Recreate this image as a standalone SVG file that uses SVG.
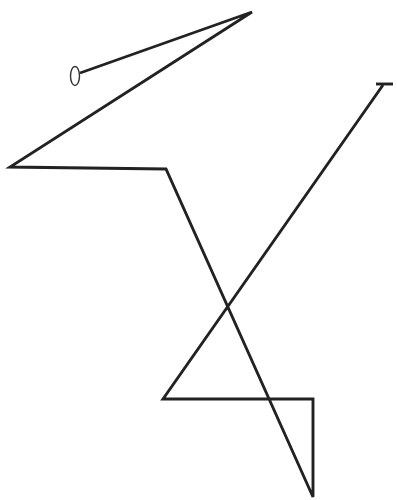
<svg xmlns="http://www.w3.org/2000/svg" width="397" height="500" viewBox="0 0 397 500">
<style>
.ln{fill:none;stroke:#222;stroke-width:2.9;stroke-linejoin:miter;stroke-linecap:butt}
.ov{fill:#fff;stroke:#333;stroke-width:1.4}
</style>
<rect width="397" height="500" fill="#fff"/>
<g id="path">
<polyline class="ln" points="80,73 252,12 10,167 166,169 313,497 313,399 163,399 383,85"/>
<line class="ln" x1="376" y1="84" x2="393" y2="84"/>
</g>
<g id="loop">
<ellipse class="ov" cx="75" cy="76" rx="4.5" ry="9.5"/>
</g>
</svg>
